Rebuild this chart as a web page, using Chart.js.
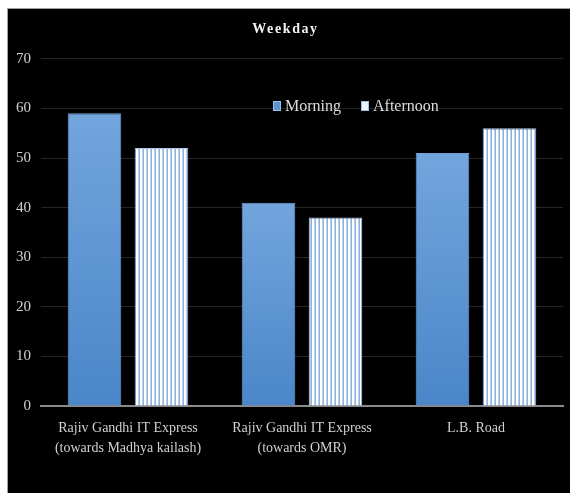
<!DOCTYPE html>
<html>
<head>
<meta charset="utf-8">
<script src="https://cdn.jsdelivr.net/npm/chart.js@4"></script>
<style>
  html, body { margin: 0; padding: 0; background: #ffffff; }
  #frame {
    position: absolute; left: 7px; top: 8px; width: 563px; height: 485px;
    background: #000000; border-top: 1px solid #a0a0a0; border-left: 1px solid #a0a0a0;
    box-sizing: border-box;
  }
  #stage { display: block; }
</style>
</head>
<body>
<div id="frame"><canvas id="stage" width="562" height="484"></canvas></div>
<script>
// 道路区間ごとの値（平日）
const roads = [
  ['Rajiv Gandhi IT Express', '(towards Madhya kailash)'],
  ['Rajiv Gandhi IT Express', '(towards OMR)'],
  'L.B. Road'
];
const morning = [59, 41, 51];
const afternoon = [52, 38, 56];
const yTicks = [0, 10, 20, 30, 40, 50, 60, 70];

const serif = "'Liberation Serif', 'Times New Roman', serif";
const canvas = document.getElementById('stage');

// 午後の棒：白と青の縦縞パターン
function stripePattern(ctx) {
  const p = document.createElement('canvas');
  p.width = 4; p.height = 4;
  const c = p.getContext('2d');
  c.fillStyle = '#ffffff'; c.fillRect(0, 0, 4, 4);
  c.fillStyle = '#b9d0ee'; c.fillRect(2, 0, 1, 4);
  c.fillStyle = '#8db2e0'; c.fillRect(3, 0, 1, 4);
  return ctx.createPattern(p, 'repeat');
}

// 午前の棒：上が明るい青のグラデーション
function morningFill(context) {
  const chart = context.chart;
  const area = chart.chartArea;
  if (!area || context.parsed == null) return '#5b93d3';
  const top = chart.scales.y.getPixelForValue(context.parsed.y);
  const g = chart.ctx.createLinearGradient(0, top, 0, area.bottom);
  g.addColorStop(0, '#73a5dd');
  g.addColorStop(1, '#4a86c9');
  return g;
}

// タイトルだけ字間を広げる
const titleSpacing = {
  id: 'titleSpacing',
  afterInit(chart) {
    const tb = chart.titleBlock;
    if (!tb) return;
    const draw = tb.draw.bind(tb);
    tb.draw = function () {
      const ctx = chart.ctx;
      ctx.save();
      ctx.letterSpacing = '1.6px';
      draw();
      ctx.restore();
    };
  }
};

// 凡例はプロット内の右寄りに描く
const innerLegend = {
  id: 'innerLegend',
  afterDatasetsDraw(chart) {
    const ctx = chart.ctx;
    const y = 105 - 8;
    const items = [
      { x: 272 - 7, fill: '#5b93d3' },
      { x: 360 - 7, fill: '#eef4fc' }
    ];
    ctx.save();
    ctx.font = '16px ' + serif;
    ctx.textBaseline = 'middle';
    items.forEach((it, i) => {
      ctx.fillStyle = it.fill;
      ctx.fillRect(it.x, y - 5, 8, 10);
      ctx.strokeStyle = '#9cc0ea';
      ctx.lineWidth = 1;
      ctx.strokeRect(it.x + 0.5, y - 4.5, 7, 9);
      ctx.fillStyle = '#dcdcdc';
      ctx.fillText(chart.data.datasets[i].label, it.x + 12, y + 1);
    });
    ctx.restore();
  }
};

new Chart(canvas, {
  type: 'bar',
  data: {
    labels: roads,
    datasets: [
      {
        label: 'Morning',
        data: morning,
        backgroundColor: morningFill,
        borderColor: '#6f9fd6',
        borderWidth: 1
      },
      {
        label: 'Afternoon',
        data: afternoon,
        backgroundColor: stripePattern(canvas.getContext('2d')),
        borderColor: '#a9c6ea',
        borderWidth: 1
      }
    ]
  },
  options: {
    responsive: false,
    animation: false,
    layout: { padding: { right: 7 } },
    datasets: {
      bar: { categoryPercentage: 0.77, barPercentage: 0.8 }
    },
    plugins: {
      legend: { display: false },
      tooltip: { enabled: false },
      title: {
        display: true,
        text: 'Weekday',
        color: '#f2f2f2',
        font: { family: serif, size: 14, weight: 'bold' },
        padding: { top: 12, bottom: 21 }
      }
    },
    scales: {
      x: {
        grid: { display: false, drawTicks: false },
        border: { color: '#8a8a8a', width: 2 },
        ticks: {
          color: '#d0d0d0',
          padding: 13,
          maxRotation: 0,
          autoSkip: false,
          font: { family: serif, size: 14, lineHeight: 1.4 }
        },
        afterFit(scale) { scale.height = 87; }
      },
      y: {
        min: 0,
        max: 70,
        afterBuildTicks(scale) { scale.ticks = yTicks.map(v => ({ value: v })); },
        grid: { color: '#262626', drawTicks: false },
        border: { display: false },
        ticks: {
          color: '#d0d0d0',
          padding: 10,
          font: { family: serif, size: 15 }
        },
        afterFit(scale) { scale.width = 33; }
      }
    }
  },
  plugins: [titleSpacing, innerLegend]
});
</script>
</body>
</html>
